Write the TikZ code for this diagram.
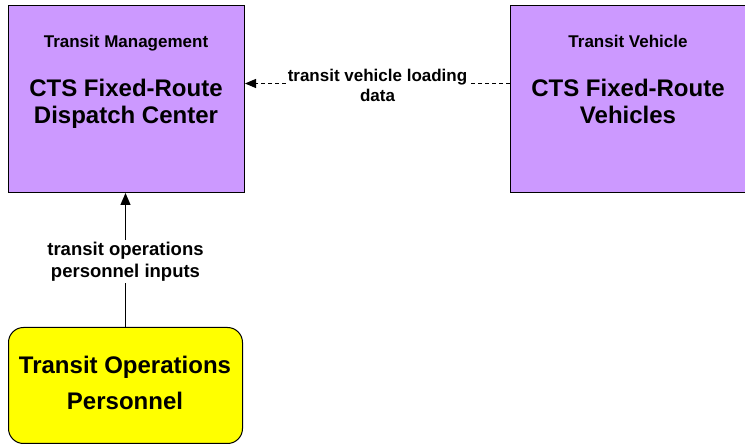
\documentclass[tikz,border=0pt]{standalone}
\usepackage{fontspec}
\setmainfont{Liberation Sans}
\usetikzlibrary{arrows.meta}
\definecolor{boxpurple}{RGB}{204,153,255}
\definecolor{boxyellow}{RGB}{255,255,0}
\begin{document}
\begin{tikzpicture}[x=1pt,y=-1pt,
  sysbox/.style={draw=black, line width=1pt, fill=boxpurple, minimum width=236pt, minimum height=187pt, inner sep=0pt, anchor=north west},
  termbox/.style={draw=black, line width=1pt, fill=boxyellow, rounded corners=15pt, minimum width=234pt, minimum height=116pt, inner sep=0pt, anchor=north west},
  hdr/.style={font=\bfseries\fontsize{17}{20}\selectfont, anchor=base, inner sep=0pt},
  ttl/.style={font=\bfseries\fontsize{24}{27}\selectfont, anchor=base, inner sep=0pt},
  ytxt/.style={font=\bfseries\fontsize{24}{36}\selectfont, anchor=base, inner sep=0pt},
  flowlbl/.style={font=\bfseries\fontsize{18.5}{22}\selectfont, fill=white, align=center, inner sep=2pt},
  dflowlbl/.style={font=\bfseries\fontsize{17}{20}\selectfont, fill=white, align=center, inner sep=2pt},
  flow/.style={line width=1.2pt, -{Triangle[length=12pt,width=10pt]}},
  dflow/.style={line width=1.2pt, dash pattern=on 4pt off 3pt, -{Triangle[length=11pt,width=9pt]}}
]
\useasboundingbox (0,0) rectangle (745,446);
\node[sysbox] (tmc) at (8,5) {};
\node[sysbox] (veh) at (510,5) {};
\node[termbox] (ops) at (8,327) {};

\node[hdr] (tmch) at (126,48) {Transit Management};
\node[ttl] (tmct1) at (126,97) {CTS Fixed-Route};
\node[ttl] (tmct2) at (126,124) {Dispatch Center};

\node[hdr] (vehh) at (628,48) {Transit Vehicle};
\node[ttl] (veht1) at (628,97) {CTS Fixed-Route};
\node[ttl] (veht2) at (628,124) {Vehicles};

\node[ytxt] (opst1) at (125,374) {Transit Operations};
\node[ytxt] (opst2) at (125,410) {Personnel};

\draw[flow] (ops.north) -- (ops.north |- tmc.south)
  node[flowlbl, midway, yshift=-1.5pt] (lbl1) {transit operations\\personnel inputs};
\draw[dflow] ([yshift=15.5pt]veh.west) -- ([yshift=15.5pt]tmc.east)
  node[dflowlbl, midway, yshift=-2pt] (lbl2) {transit vehicle loading\\data};
\end{tikzpicture}
\end{document}
